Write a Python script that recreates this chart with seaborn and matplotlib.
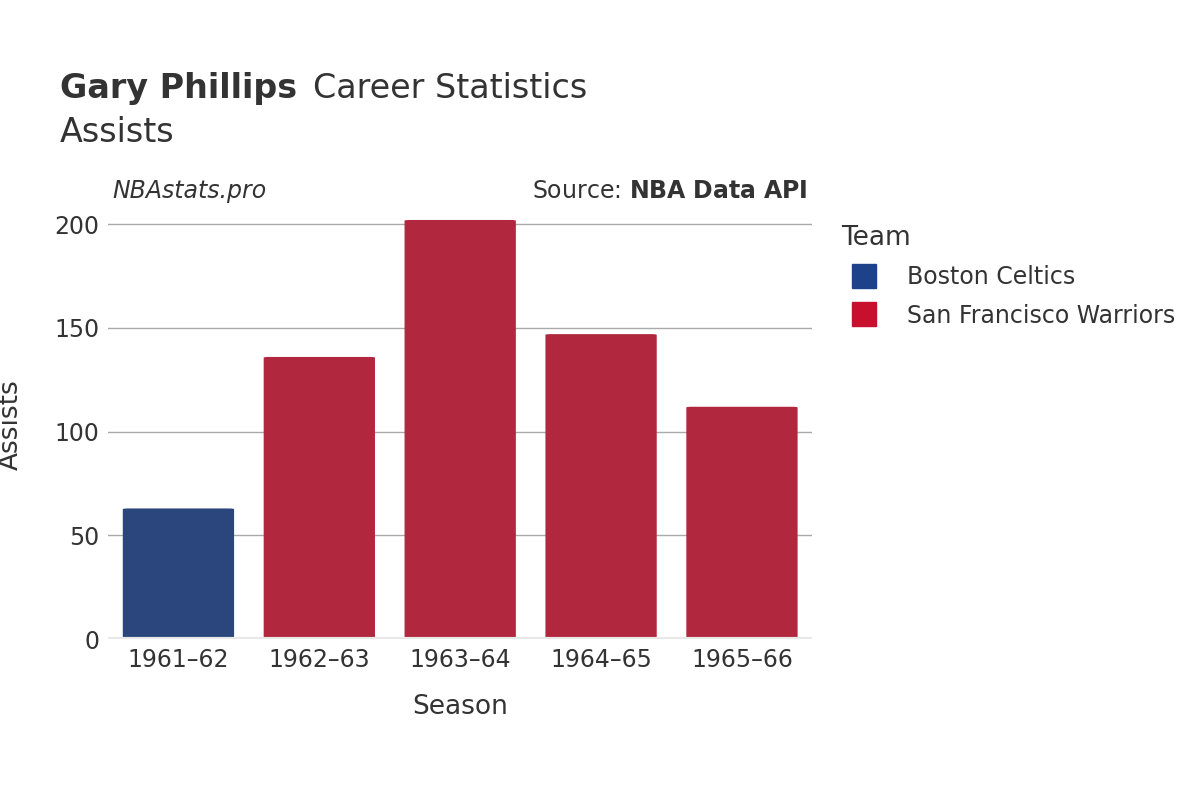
import matplotlib
matplotlib.use("Agg")
import matplotlib.pyplot as plt
import seaborn as sns
import pandas as pd
from matplotlib.patches import FancyBboxPatch
from matplotlib.lines import Line2D

seasons = ["1961–62", "1962–63", "1963–64", "1964–65", "1965–66"]
teams = ["Boston Celtics", "San Francisco Warriors", "San Francisco Warriors",
         "San Francisco Warriors", "San Francisco Warriors"]
assists = [63, 136, 202, 147, 112]
palette = {"Boston Celtics": "#1d428a", "San Francisco Warriors": "#c8102e"}

df = pd.DataFrame({"Season": seasons, "Team": teams, "Assists": assists})

plt.rcParams["font.family"] = "DejaVu Sans"
fig = plt.figure(figsize=(12, 8), dpi=100)
ax = fig.add_axes([0.09, 0.201, 0.587, 0.537])

sns.barplot(data=df, x="Season", y="Assists", hue="Team", palette=palette,
            dodge=False, width=0.79, ax=ax, legend=False, zorder=3)

# rounded bar tops
for p in list(ax.patches):
    x, y, w, h = p.get_x(), p.get_y(), p.get_width(), p.get_height()
    if h <= 0:
        continue
    fc = p.get_facecolor()
    p.remove()
    ax.add_patch(FancyBboxPatch((x, y), w, h, boxstyle="round,pad=0,rounding_size=0.04",
                                mutation_aspect=8, fc=fc, ec="none", zorder=3))

ax.set_ylim(0, 207)
ax.set_xlim(-0.5, 4.5)
ax.set_yticks([0, 50, 100, 150, 200])
ax.grid(axis="y", color="#aaaaaa", lw=1, zorder=0)
ax.axhline(0, color="#e8e8e8", lw=3, zorder=4)
for s in ax.spines.values():
    s.set_visible(False)
ax.tick_params(length=0, labelsize=17, colors="#333333", pad=6)
ax.set_xlabel("Season", fontsize=19, color="#333333", labelpad=16)
ax.set_ylabel("Assists", fontsize=19, color="#333333", labelpad=22)

fig.text(0.05, 0.877, "Gary Phillips", fontsize=24, fontweight="bold", color="#333333")
fig.text(0.261, 0.877, "Career Statistics", fontsize=24, color="#333333")
fig.text(0.05, 0.822, "Assists", fontsize=24, color="#333333")
fig.text(0.094, 0.752, "NBAstats.pro", fontsize=17, style="italic", color="#333333")
fig.text(0.673, 0.752, "Source: $\\bf{NBA\\ Data\\ API}$", fontsize=17, color="#333333", ha="right")

handles = [Line2D([0], [0], marker="s", ls="", ms=17, color=palette[t]) for t in palette]
leg = fig.legend(handles, list(palette), title="Team", loc="upper left",
                 bbox_to_anchor=(0.683, 0.745), frameon=False, fontsize=17,
                 title_fontsize=19, labelspacing=0.6, handletextpad=0.8)
leg._legend_box.align = "left"
for t in leg.get_texts():
    t.set_color("#333333")
leg.get_title().set_color("#333333")

fig.savefig("out.png", dpi=100)
